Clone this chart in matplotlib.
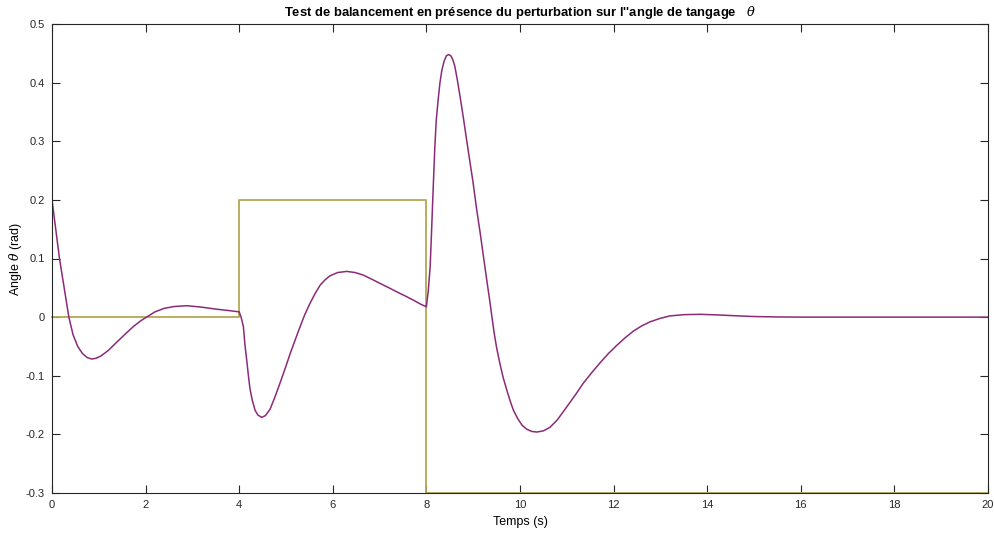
import matplotlib
matplotlib.use("Agg")
import matplotlib.pyplot as plt

plt.rcParams['font.family'] = ['Liberation Sans', 'DejaVu Sans']
plt.rcParams['axes.unicode_minus'] = False
plt.rcParams['mathtext.fontset'] = 'dejavuserif'

# angle de tangage
t_theta = [0.0, 0.08, 0.16, 0.25, 0.36, 0.45, 0.55, 0.65, 0.75, 0.85, 0.95, 1.05, 1.2, 1.38,
           1.55, 1.74, 1.9, 2.02, 2.2, 2.4, 2.6, 2.88, 3.2, 3.52, 3.8, 4.0,
           4.04, 4.09, 4.12, 4.16, 4.20, 4.23, 4.28, 4.34, 4.40, 4.48, 4.56, 4.66, 4.76,
           4.87, 4.98, 5.09, 5.20, 5.30, 5.40, 5.51, 5.62, 5.73, 5.84, 5.94, 6.1, 6.30,
           6.48, 6.65, 6.85, 7.01, 7.2, 7.37, 7.55, 7.72, 7.88, 8.0,
           8.04, 8.08, 8.105, 8.13, 8.155, 8.18, 8.21, 8.25, 8.29, 8.33, 8.38, 8.43, 8.48,
           8.53, 8.57, 8.61, 8.66, 8.72, 8.79, 8.86, 8.93, 9.0, 9.07, 9.15, 9.22, 9.29,
           9.35, 9.40, 9.45, 9.50, 9.57, 9.64, 9.72, 9.79, 9.86, 9.95, 10.04, 10.14, 10.25,
           10.36, 10.5, 10.64, 10.8, 11.0, 11.18, 11.35, 11.53, 11.71, 11.89, 12.07, 12.25,
           12.42, 12.6, 12.78, 13.0, 13.2, 13.5, 13.85, 14.2, 14.56, 15.0, 15.5, 16.0,
           18.0, 20.0]
theta = [0.2, 0.15, 0.1, 0.055, 0.0, -0.03, -0.05, -0.062, -0.069, -0.0715, -0.070, -0.066, -0.057, -0.043,
         -0.03, -0.016, -0.006, 0.0, 0.009, 0.015, 0.018, 0.0195, 0.017, 0.0135, 0.011, 0.009,
         0.0, -0.0165, -0.045, -0.073, -0.102, -0.122, -0.142, -0.159, -0.167, -0.171, -0.168, -0.157, -0.137,
         -0.113, -0.088, -0.062, -0.038, -0.0165, 0.004, 0.023, 0.040, 0.0546, 0.064, 0.0705, 0.076, 0.078,
         0.076, 0.0717, 0.064, 0.0575, 0.050, 0.043, 0.036, 0.029, 0.022, 0.0176,
         0.045, 0.086, 0.135, 0.188, 0.24, 0.29, 0.335, 0.37, 0.40, 0.421, 0.437, 0.446, 0.448,
         0.445, 0.438, 0.427, 0.405, 0.376, 0.340, 0.302, 0.265, 0.228, 0.186, 0.143, 0.103, 0.063,
         0.030, 0.0005, -0.028, -0.052, -0.079, -0.103, -0.125, -0.143, -0.159, -0.173, -0.184, -0.191, -0.195,
         -0.196, -0.194, -0.188, -0.175, -0.153, -0.133, -0.113, -0.095, -0.078, -0.062, -0.048, -0.035,
         -0.024, -0.015, -0.008, -0.002, 0.002, 0.0042, 0.0048, 0.0038, 0.0025, 0.001, 0.0003, 0.0,
         0.0, 0.0]

# perturbation (echelons)
t_pert = [0, 4, 4, 8, 8, 20]
pert = [0, 0, 0.2, 0.2, -0.3, -0.3]

fig = plt.figure(figsize=(9.94, 5.33), dpi=100)
ax = fig.add_axes([52/994, 1 - 493/533, 936/994, 469/533])

ax.plot(t_pert, pert, color="#B3A752", lw=1.3, clip_on=False)
ax.plot(t_theta, theta, color="#8B2B78", lw=1.1)

ax.set_xlim(0, 20)
ax.set_ylim(-0.3, 0.5)
ax.set_xticks(range(0, 21, 2))
ax.set_yticks([-0.3, -0.2, -0.1, 0, 0.1, 0.2, 0.3, 0.4, 0.5])
ax.set_yticklabels(["-0.3", "-0.2", "-0.1", "0", "0.1", "0.2", "0.3", "0.4", "0.5"])
ax.tick_params(direction="in", top=True, right=True, length=6, width=0.8,
               colors="#262626", labelsize=8, pad=5)
for s in ax.spines.values():
    s.set_color("#262626")
    s.set_linewidth(0.8)

ax.set_title("Test de balancement en présence du perturbation sur l''angle de tangage   $\\theta$",
             fontsize=9.4, fontweight="bold", pad=6)
ax.set_xlabel("Temps (s)", fontsize=9)
ax.set_ylabel("Angle $\\theta$ (rad)", fontsize=9)
ax.yaxis.set_label_coords(-0.030, 0.5)
ax.xaxis.set_label_coords(0.5, -0.049)

fig.savefig("out.png", dpi=100)
